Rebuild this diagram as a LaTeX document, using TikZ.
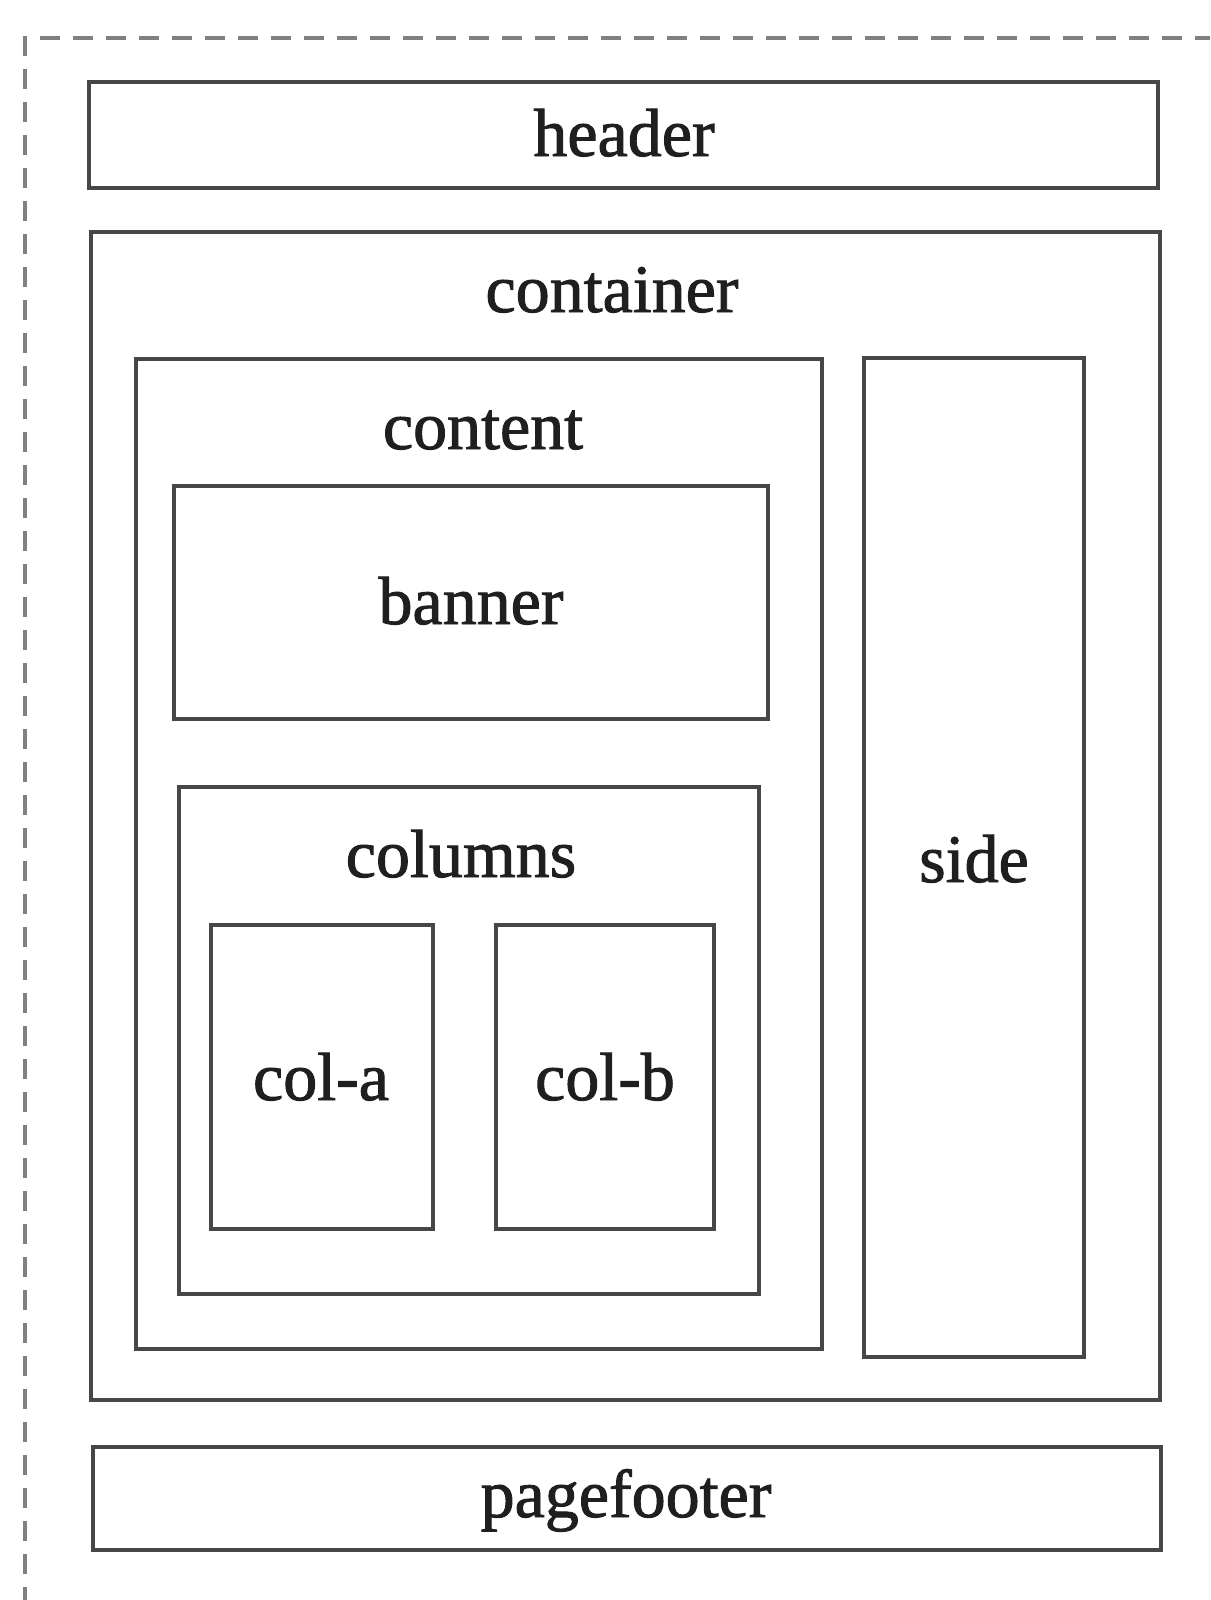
\documentclass[tikz,border=0pt]{standalone}
\usepackage{fontspec}
\setmainfont{Liberation Serif}
\newfontfamily\lblfont{Liberation Serif}[UprightFeatures={FakeBold=1.4}]
\begin{document}
\begin{tikzpicture}[x=1pt,y=-1pt,
  box/.style={draw=black!72, line width=3.2pt, rectangle, inner sep=0pt, outer sep=0pt},
  lbl/.style={anchor=base, inner sep=0pt, font=\lblfont\fontsize{68}{78}\selectfont, text=black!88},
  frame/.style={draw=black!50, line width=4pt, dash pattern=on 20pt off 13pt}]
\useasboundingbox[fill=white] (0,0) rectangle (1210,1600);
\clip (0,0) rectangle (1210,1600);
\coordinate (fr-tr) at (1215,38);
\coordinate (fr-tl) at (25,38);
\coordinate (fr-bl) at (25,1605);
\draw[frame] (fr-tr) -- (fr-tl) -- (fr-bl);
% boxes
\node[box, minimum width=1069pt, minimum height=106pt] (header) at (623.5,135) {};
\node[box, minimum width=1069pt, minimum height=1168pt] (container) at (625.5,816) {};
\node[box, minimum width=686pt, minimum height=990pt] (content) at (479,854) {};
\node[box, minimum width=220pt, minimum height=999pt] (side) at (974,857.5) {};
\node[box, minimum width=594pt, minimum height=233pt] (banner) at (471,602.5) {};
\node[box, minimum width=580pt, minimum height=507pt] (columns) at (469,1040.5) {};
\node[box, minimum width=222pt, minimum height=304pt] (cola) at (322,1077) {};
\node[box, minimum width=218pt, minimum height=304pt] (colb) at (605,1077) {};
\node[box, minimum width=1068pt, minimum height=103pt] (pagefooter) at (627,1498.5) {};
% labels
\node[lbl] (t-header) at (624,156) {header};
\node[lbl] (t-container) at (612,312) {container};
\node[lbl] (t-content) at (483,449) {content};
\node[lbl] (t-banner) at (471,624) {banner};
\node[lbl] (t-columns) at (461,877) {columns};
\node[lbl] (t-cola) at (321,1100) {col-a};
\node[lbl] (t-colb) at (605,1100) {col-b};
\node[lbl] (t-side) at (974,882) {side};
\node[lbl] (t-pagefooter) at (626,1517) {pagefooter};
\end{tikzpicture}
\end{document}
